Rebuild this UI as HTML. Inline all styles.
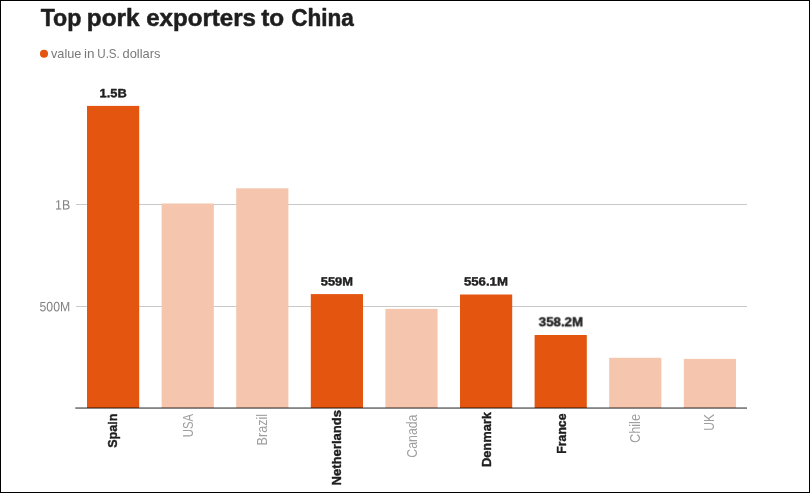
<!DOCTYPE html>
<html><head><meta charset="utf-8"><title>Top pork exporters to China</title>
<style>html,body{margin:0;padding:0;background:#fff;overflow:hidden}svg{display:block}text{font-family:"Liberation Sans",sans-serif}</style></head><body>
<svg width="810" height="493" viewBox="0 0 810 493">
<rect x="0" y="0" width="810" height="493" fill="#ffffff"/>
<circle cx="44" cy="53.7" r="4.05" fill="#e4550f"/>
<rect x="76" y="204" width="671" height="1" fill="#c9c9c9"/>
<rect x="76" y="306" width="671" height="1" fill="#c9c9c9"/>
<rect x="87.00" y="105.90" width="52.2" height="302.10" fill="#e4550f"/>
<rect x="161.60" y="203.50" width="52.2" height="204.50" fill="#f6c5ad"/>
<rect x="236.20" y="188.30" width="52.2" height="219.70" fill="#f6c5ad"/>
<rect x="310.80" y="294.10" width="52.2" height="113.90" fill="#e4550f"/>
<rect x="385.40" y="308.90" width="52.2" height="99.10" fill="#f6c5ad"/>
<rect x="460.00" y="294.50" width="52.2" height="113.50" fill="#e4550f"/>
<rect x="534.60" y="335.00" width="52.2" height="73.00" fill="#e4550f"/>
<rect x="609.20" y="357.80" width="52.2" height="50.20" fill="#f6c5ad"/>
<rect x="683.80" y="358.90" width="52.2" height="49.10" fill="#f6c5ad"/>
<rect x="75.3" y="407" width="671.7" height="1" fill="#000000" fill-opacity="0.40"/>
<rect x="75.3" y="408" width="671.7" height="1" fill="#000000" fill-opacity="0.48"/>
<g style="will-change:opacity;opacity:0.99">
<text x="40.65" y="26.00" font-size="23.6" font-weight="bold" stroke="#1c1c1c" stroke-width="0.5" stroke-linejoin="round" fill="#1c1c1c" textLength="40.76" lengthAdjust="spacingAndGlyphs">Top</text>
<text x="86.83" y="26.00" font-size="23.6" font-weight="bold" stroke="#1c1c1c" stroke-width="0.5" stroke-linejoin="round" fill="#1c1c1c" textLength="52.77" lengthAdjust="spacingAndGlyphs">pork</text>
<text x="146.20" y="26.00" font-size="23.6" font-weight="bold" stroke="#1c1c1c" stroke-width="0.5" stroke-linejoin="round" fill="#1c1c1c" textLength="109.83" lengthAdjust="spacingAndGlyphs">exporters</text>
<text x="261.25" y="26.00" font-size="23.6" font-weight="bold" stroke="#1c1c1c" stroke-width="0.5" stroke-linejoin="round" fill="#1c1c1c" textLength="23.00" lengthAdjust="spacingAndGlyphs">to</text>
<text x="291.14" y="26.00" font-size="23.6" font-weight="bold" stroke="#1c1c1c" stroke-width="0.5" stroke-linejoin="round" fill="#1c1c1c" textLength="62.76" lengthAdjust="spacingAndGlyphs">China</text>
<text x="51.00" y="57.50" font-size="13" fill="#777777" textLength="30.42" lengthAdjust="spacingAndGlyphs">value</text>
<text x="84.06" y="57.50" font-size="13" fill="#777777" textLength="10.50" lengthAdjust="spacingAndGlyphs">in</text>
<text x="97.27" y="57.50" font-size="13" fill="#777777" textLength="22.57" lengthAdjust="spacingAndGlyphs">U.S.</text>
<text x="122.50" y="57.50" font-size="13" fill="#777777" textLength="37.90" lengthAdjust="spacingAndGlyphs">dollars</text>
<text transform="translate(55.12,209.60) rotate(0.04)" font-size="13.5" fill="#808080" textLength="15.20" lengthAdjust="spacingAndGlyphs">1B</text>
<text transform="translate(39.52,311.30) rotate(0.04)" font-size="13.5" fill="#808080" textLength="30.61" lengthAdjust="spacingAndGlyphs">500M</text>
<text transform="translate(99.60,97.30) rotate(0.04)" font-size="12" font-weight="bold" stroke="#1c1c1c" stroke-width="0.4" stroke-linejoin="round" fill="#1c1c1c" textLength="27.16" lengthAdjust="spacingAndGlyphs">1.5B</text>
<text transform="translate(320.72,285.60) rotate(0.04)" font-size="12" font-weight="bold" stroke="#1c1c1c" stroke-width="0.4" stroke-linejoin="round" fill="#1c1c1c" textLength="32.23" lengthAdjust="spacingAndGlyphs">559M</text>
<text transform="translate(463.91,285.60) rotate(0.04)" font-size="12" font-weight="bold" stroke="#1c1c1c" stroke-width="0.4" stroke-linejoin="round" fill="#1c1c1c" textLength="44.06" lengthAdjust="spacingAndGlyphs">556.1M</text>
<text transform="translate(538.72,326.30) rotate(0.04)" font-size="12" font-weight="bold" stroke="#1c1c1c" stroke-width="0.4" stroke-linejoin="round" fill="#1c1c1c" textLength="44.26" lengthAdjust="spacingAndGlyphs">358.2M</text>
<text transform="translate(117.30,447.75) rotate(-90)" x="0" y="0" font-size="12.5" font-weight="bold" stroke="#1c1c1c" stroke-width="0.4" stroke-linejoin="round" fill="#1c1c1c" textLength="34.19" lengthAdjust="spacingAndGlyphs">Spain</text>
<text transform="translate(192.60,437.31) rotate(-90)" x="0" y="0" font-size="14" fill="#9e9e9e" textLength="23.35" lengthAdjust="spacingAndGlyphs">USA</text>
<text transform="translate(266.70,445.38) rotate(-90)" x="0" y="0" font-size="14" fill="#9e9e9e" textLength="31.41" lengthAdjust="spacingAndGlyphs">Brazil</text>
<text transform="translate(341.10,485.44) rotate(-90)" x="0" y="0" font-size="12.5" font-weight="bold" stroke="#1c1c1c" stroke-width="0.4" stroke-linejoin="round" fill="#1c1c1c" textLength="75.46" lengthAdjust="spacingAndGlyphs">Netherlands</text>
<text transform="translate(416.50,457.68) rotate(-90)" x="0" y="0" font-size="14" fill="#9e9e9e" textLength="43.10" lengthAdjust="spacingAndGlyphs">Canada</text>
<text transform="translate(491.20,467.12) rotate(-90)" x="0" y="0" font-size="12.5" font-weight="bold" stroke="#1c1c1c" stroke-width="0.4" stroke-linejoin="round" fill="#1c1c1c" textLength="55.07" lengthAdjust="spacingAndGlyphs">Denmark</text>
<text transform="translate(565.80,453.68) rotate(-90)" x="0" y="0" font-size="12.5" font-weight="bold" stroke="#1c1c1c" stroke-width="0.4" stroke-linejoin="round" fill="#1c1c1c" textLength="40.18" lengthAdjust="spacingAndGlyphs">France</text>
<text transform="translate(640.20,443.10) rotate(-90)" x="0" y="0" font-size="14" fill="#9e9e9e" textLength="29.12" lengthAdjust="spacingAndGlyphs">Chile</text>
<text transform="translate(714.30,430.75) rotate(-90)" x="0" y="0" font-size="14" fill="#9e9e9e" textLength="16.68" lengthAdjust="spacingAndGlyphs">UK</text>
</g>
<rect x="0" y="0" width="810" height="1" fill="#000"/><rect x="0" y="492" width="810" height="1" fill="#000"/><rect x="0" y="0" width="1" height="493" fill="#000"/><rect x="809" y="0" width="1" height="493" fill="#000"/>
</svg></body></html>
